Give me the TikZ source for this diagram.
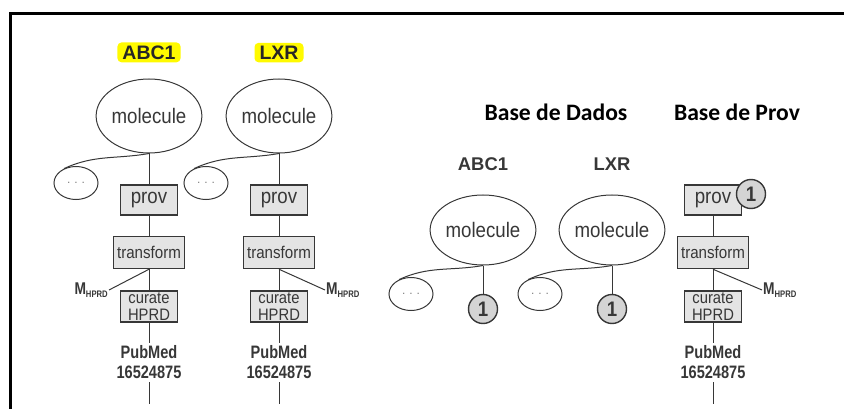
\documentclass[tikz,border=0pt]{standalone}
\usepackage{fontspec}
\setmainfont{Liberation Sans}
\newfontfamily\headfont{Carlito}
\newfontfamily\narrowfont{Liberation Sans}[FakeStretch=0.89]
\newfontfamily\pubfont{Liberation Sans}[FakeStretch=0.81]
\usetikzlibrary{positioning, shapes.geometric}
\definecolor{inkgray}{RGB}{55,55,55}
\definecolor{boxfill}{RGB}{228,228,228}
\definecolor{markfill}{RGB}{212,212,212}
\definecolor{hiyellow}{RGB}{255,250,0}
\tikzset{
  molnode/.style  = {ellipse, draw=inkgray, line width=1pt, minimum width=100pt,
                     minimum height=74pt, inner sep=0pt, text=inkgray,
                     font=\narrowfont\fontsize{21}{22}\selectfont},
  dotsnode/.style = {ellipse, draw=inkgray, line width=1pt, minimum width=44pt,
                     minimum height=33pt, inner sep=0pt, text=gray,
                     font=\fontsize{12}{12}\selectfont},
  provbox/.style  = {draw=inkgray, fill=boxfill, line width=1.5pt, minimum width=57pt,
                     minimum height=30pt, inner sep=0pt, text=inkgray,
                     font=\narrowfont\fontsize{21}{22}\selectfont},
  transbox/.style = {provbox, minimum width=71pt, minimum height=32pt,
                     font=\narrowfont\fontsize{17}{18}\selectfont},
  curbox/.style   = {provbox, minimum height=31pt, align=center,
                     font=\narrowfont\fontsize{16.6}{17}\selectfont},
  pubtext/.style  = {align=center, inner xsep=2pt, inner ysep=3pt, text=inkgray,
                     font=\pubfont\bfseries\fontsize{18}{20}\selectfont},
  mtext/.style    = {inner sep=1pt, text=inkgray,
                     font=\pubfont\bfseries\fontsize{17}{18}\selectfont},
  refmark/.style  = {circle, draw=inkgray, fill=markfill, line width=1.4pt,
                     minimum size=29pt, inner sep=0pt, text=inkgray,
                     font=\narrowfont\bfseries\fontsize{21}{22}\selectfont},
  link/.style     = {draw=inkgray, line width=1pt},
}

\begin{document}
\begin{tikzpicture}[
    x=1pt, y=-1pt,
    hilite/.style={fill=hiyellow, rounded corners=4pt, inner xsep=5pt, inner ysep=3pt,
                   text=black!85, font=\bfseries\fontsize{19.5}{20}\selectfont},
    genetext/.style={text=inkgray, inner sep=2pt, font=\bfseries\fontsize{18.4}{20}\selectfont},
    heading/.style={font=\headfont\bfseries\fontsize{23.6}{25}\selectfont}
]
\useasboundingbox (0,0) rectangle (844,409);
\draw[line width=3pt] (10,409) -- (10,14) -- (844,14);

% provenance chains
\foreach \x/\i/\mdx/\mside in {149/a/-40/east, 279/b/46/west, 713/c/49/west}{
    \node[provbox] (prov\i) at (\x,200) {prov};
    \node[transbox, below=20pt of prov\i] (tr\i) {transform};
    \node[curbox, below=21pt of tr\i] (cur\i) {curate\\HPRD};
    \node[pubtext, below=20pt of cur\i] (pub\i) {PubMed\\16524875};
    \coordinate (tail\i) at (\x,404);
    \node[mtext, anchor=\mside] (m\i) at (\x+\mdx,290)
        {M\raisebox{-3.5pt}{\fontsize{9.5}{10}\selectfont HPRD}};
    \draw[link] (prov\i) -- (tr\i) -- (cur\i) -- (pub\i) -- (tail\i);
    \draw[link] (tr\i.south) -- (m\i.\mside);
}

% annotated molecules
\foreach \x/\gene/\i in {149/ABC1/a, 279/LXR/b}{
    \node[molnode] (mol\i) at (\x,116) {molecule};
    \node[hilite, above=16pt of mol\i] (gene\i) {\gene};
    \node[dotsnode] (dots\i) at (\x-73,183) {.\hspace{4pt}.\hspace{4pt}.};
    \draw[link] (mol\i) -- (prov\i);
    \draw[link] (mol\i.south) to[out=190, in=25] (dots\i.130);
}

% Base de Dados
\node[heading] (dbhead) at (556,112) {Base de Dados};
\foreach \x/\gene/\i in {483/ABC1/d, 612/LXR/e}{
    \node[molnode, minimum height=70pt] (mol\i) at (\x,230) {molecule};
    \node[genetext, above=22pt of mol\i] (gene\i) {\gene};
    \node[dotsnode] (dots\i) at (\x-72,294) {.\hspace{4pt}.\hspace{4pt}.};
    \node[refmark] (ref\i) at (\x,309) {1};
    \draw[link] (mol\i) -- (ref\i);
    \draw[link] (mol\i.south) to[out=190, in=25] (dots\i.130);
}

% Base de Prov
\node[heading] (provhead) at (737,112) {Base de Prov};
\node[refmark] (refc) at (751,194) {1};
\end{tikzpicture}
\end{document}
